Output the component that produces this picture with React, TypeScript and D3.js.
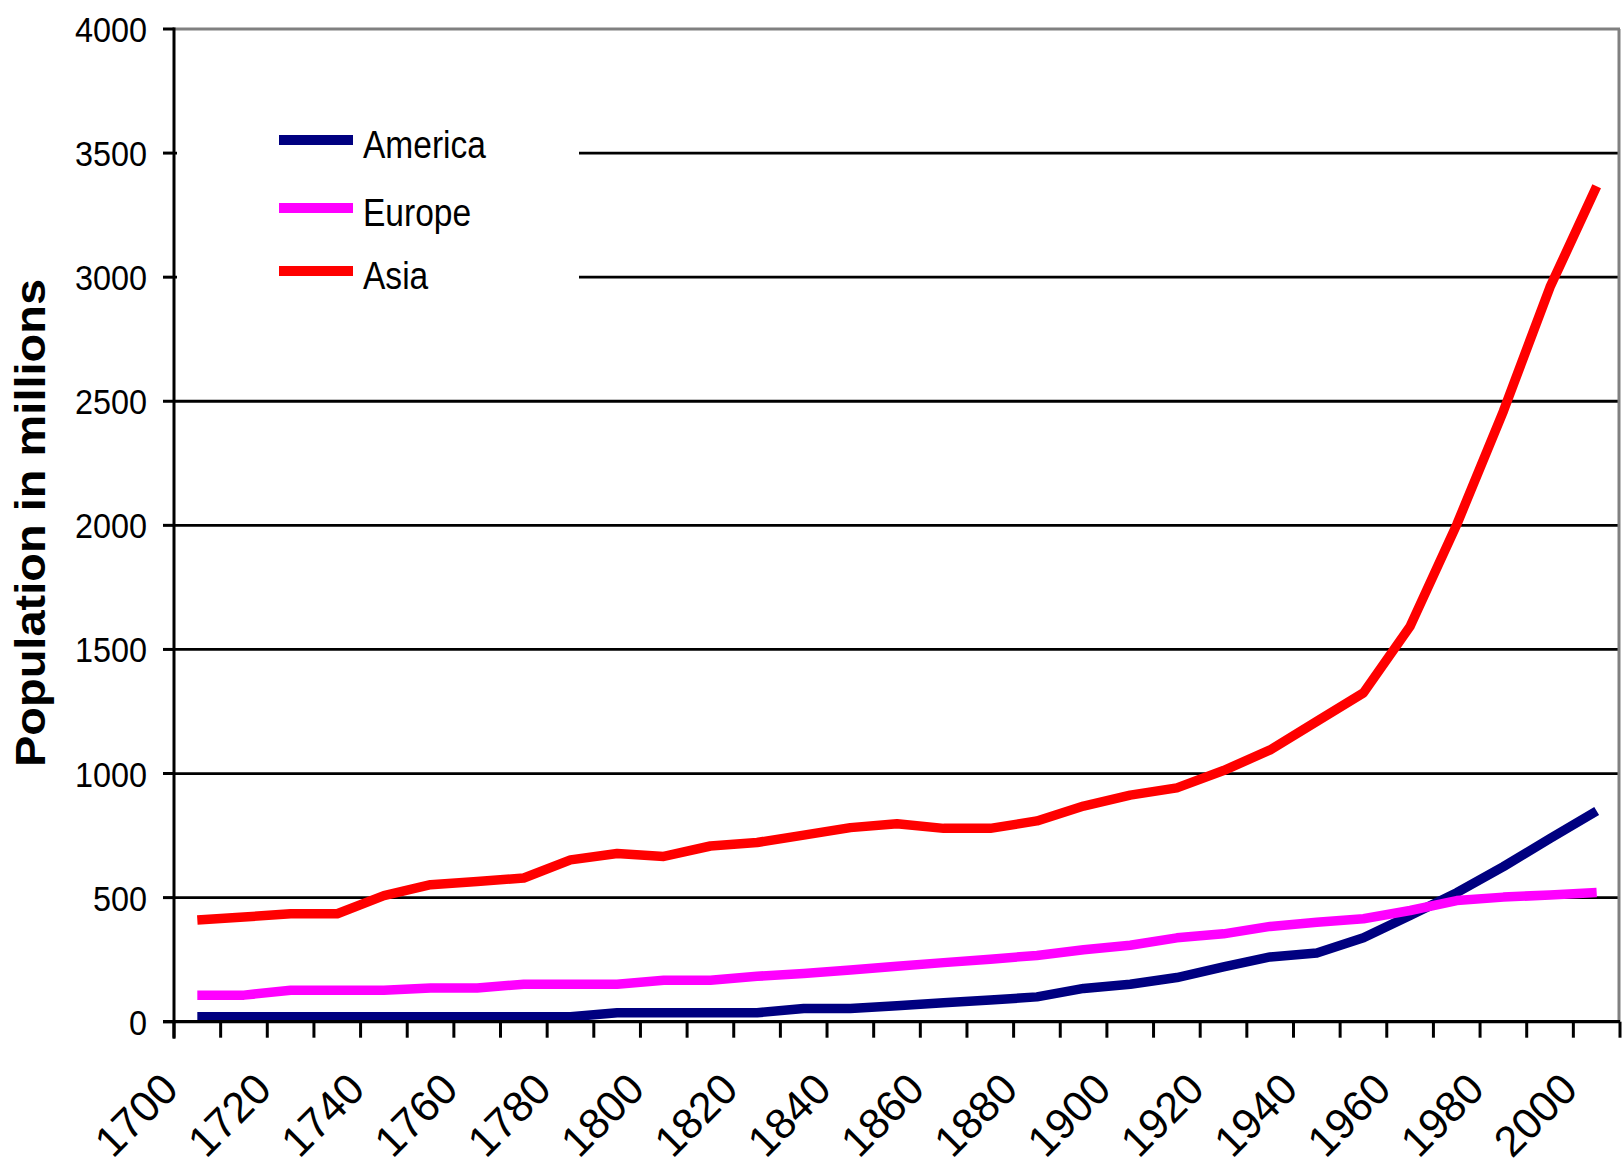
import React from 'react';
import * as d3 from 'd3';

// population in millions, one value per decade
const years = [1700, 1710, 1720, 1730, 1740, 1750, 1760, 1770, 1780, 1790,
  1800, 1810, 1820, 1830, 1840, 1850, 1860, 1870, 1880, 1890,
  1900, 1910, 1920, 1930, 1940, 1950, 1960, 1970, 1980, 1990, 2000];

const america = [20, 20, 20, 20, 20, 20, 20, 20, 20, 36,
  36, 36, 36, 53, 53, 64, 76, 87, 100, 134,
  151, 178, 221, 261, 277, 338, 428, 520, 625, 738, 849];

const europe = [107, 107, 127, 127, 127, 136, 136, 151, 151, 151,
  167, 167, 183, 194, 208, 223, 238, 252, 267, 290,
  308, 338, 354, 384, 401, 415, 448, 488, 502, 511, 521];

const asia = [410, 422, 435, 435, 508, 552, 565, 579, 652, 678,
  666, 708, 722, 752, 782, 798, 779, 779, 809, 869,
  913, 942, 1012, 1095, 1210, 1325, 1593, 2003, 2460, 2960, 3366];

const yTicks = [0, 500, 1000, 1500, 2000, 2500, 3000, 3500, 4000];
const xLabels = ['1700', '1720', '1740', '1760', '1780', '1800', '1820', '1840',
  '1860', '1880', '1900', '1920', '1940', '1960', '1980', '2000'];

const seriesNames = ['America', 'Europe', 'Asia'];
const seriesColors = ['#000080', '#FF00FF', '#FF0000'];

const font = '"Liberation Sans", Arial, sans-serif';

export default function App() {
  const width = 1622;
  const height = 1167;
  const plot = { left: 174, right: 1620, top: 29, bottom: 1021.7 };

  const x = d3.scaleBand<number>()
    .domain(years)
    .range([plot.left, plot.right])
    .padding(0);
  const bw = x.bandwidth();
  const cx = (yr: number) => (x(yr) as number) + bw / 2;

  const y = d3.scaleLinear().domain([0, 4000]).range([plot.bottom, plot.top]);

  const line = d3.line<number>()
    .x((d, i) => cx(years[i]))
    .y(d => y(d));

  const seriesData = [america, europe, asia];

  // tick marks sit on the category boundaries
  const boundaries = years.map(yr => x(yr) as number).concat([plot.right]);

  return (
    <svg width={width} height={height}
      style={{ position: 'absolute', left: 0, top: 0, background: '#fff' }}>
      <rect x={0} y={0} width={width} height={height} fill="#fff" />

      {/* gridlines */}
      {yTicks.filter(t => t > 0 && t < 4000).map(t => (
        <line key={t} x1={plot.left} x2={plot.right} y1={y(t)} y2={y(t)}
          stroke="#000" strokeWidth={2.8} />
      ))}

      {/* plot border (top, right) */}
      <line x1={plot.left} x2={plot.right} y1={y(4000)} y2={y(4000)} stroke="#808080" strokeWidth={3} />
      <line x1={plot.right - 1} x2={plot.right - 1} y1={plot.top} y2={plot.bottom} stroke="#808080" strokeWidth={3} />

      {/* series */}
      {seriesData.map((vals, i) => (
        <path key={seriesNames[i]} d={line(vals) as string} fill="none"
          stroke={seriesColors[i]} strokeWidth={9.5} strokeLinejoin="round" strokeLinecap="butt" />
      ))}

      {/* legend */}
      <rect x={177} y={95} width={402} height={215} fill="#fff" />
      {seriesNames.map((name, i) => {
        const ly = [140, 208, 271][i];
        return (
          <g key={name}>
            <line x1={279} x2={353} y1={ly} y2={ly} stroke={seriesColors[i]} strokeWidth={10} />
            <text transform={`translate(363,${ly + 18}) scale(0.86,1)`}
              fontFamily={font} fontSize={39} fill="#000">{name}</text>
          </g>
        );
      })}

      {/* y axis */}
      <line x1={plot.left} x2={plot.left} y1={plot.top - 1.5} y2={plot.bottom + 17}
        stroke="#000" strokeWidth={3} />
      {yTicks.map(t => (
        <g key={t}>
          <line x1={163} x2={plot.left} y1={y(t)} y2={y(t)} stroke="#000" strokeWidth={3} />
          <text transform={`translate(147,${y(t)}) scale(0.9,1)`} dy="0.36em"
            textAnchor="end" fontFamily={font} fontSize={36} fill="#000">{t}</text>
        </g>
      ))}

      {/* x axis */}
      <line x1={plot.left - 11} x2={plot.right} y1={plot.bottom} y2={plot.bottom}
        stroke="#000" strokeWidth={3.2} />
      {boundaries.map((bx, i) => (
        <line key={i} x1={bx} x2={bx} y1={plot.bottom} y2={plot.bottom + 16}
          stroke="#000" strokeWidth={3} />
      ))}
      {xLabels.map(lbl => {
        const px = cx(+lbl) - 17;
        const py = plot.bottom + 70;
        return (
          <text key={lbl} transform={`translate(${px},${py}) rotate(-45)`}
            textAnchor="end" fontFamily={font} fontSize={43} fill="#000">{lbl}</text>
        );
      })}

      {/* y axis title */}
      <text transform={`translate(45,523) scale(0.9,1) rotate(-90)`} textAnchor="middle"
        fontFamily={font} fontSize={47} fontWeight="bold" fill="#000">Population in millions</text>
    </svg>
  );
}
